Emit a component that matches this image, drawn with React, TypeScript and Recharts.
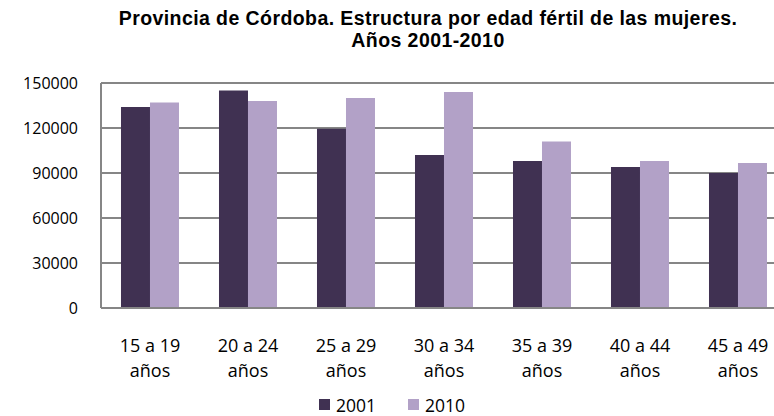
import React from "react";
import { BarChart, Bar, XAxis, YAxis, CartesianGrid, Legend } from "recharts";

const categories = ["15 a 19 años", "20 a 24 años", "25 a 29 años", "30 a 34 años", "35 a 39 años", "40 a 44 años", "45 a 49 años"];
const values2001 = [134000, 145000, 119500, 102000, 98000, 94000, 90000];
const values2010 = [137000, 138000, 140000, 144000, 111000, 98000, 96700];
const yTicks = [0, 30000, 60000, 90000, 120000, 150000];
const seriesNames = ["2001", "2010"];
const seriesColors = ["#403152", "#B2A1C7"];
const titleLines = ["Provincia de Córdoba. Estructura por edad fértil de las mujeres.", "Años 2001-2010"];

const data = categories.map((c, i) => ({ name: c, v2001: values2001[i], v2010: values2010[i] }));

const FONT = "'Open Sans', sans-serif";
const TITLE_FONT = "'Liberation Sans', Arial, sans-serif";
const GRID = "#868686";

const XTick = (props: any) => {
  const { x, y, payload } = props;
  const words = String(payload.value).split(" ");
  const line1 = words.slice(0, 3).join(" ");
  const line2 = words.slice(3).join(" ");
  return (
    <text x={x} y={y} textAnchor="middle" fill="#000" fontSize={18} fontFamily={FONT}>
      <tspan x={x} dy={44}>{line1}</tspan>
      <tspan x={x} dy={25}>{line2}</tspan>
    </text>
  );
};

const LegendContent = () => (
  <div style={{ height: 26, boxSizing: "border-box", paddingTop: 3, display: "flex", justifyContent: "center", fontFamily: FONT, fontSize: 17.5, lineHeight: "20px", color: "#000" }}>
    {seriesNames.map((n, i) => (
      <div key={n} style={{ display: "flex", alignItems: "center", marginLeft: i === 0 ? 0 : 32 }}>
        <span style={{ display: "inline-block", width: 11, height: 11, background: seriesColors[i], marginRight: 6 }} />
        <span>{n}</span>
      </div>
    ))}
  </div>
);

export default function App() {
  return (
    <div style={{ position: "fixed", left: 0, top: 0, width: 774, height: 416, overflow: "hidden", background: "#fff", fontFamily: FONT }}>
      <div style={{ position: "absolute", left: 0, width: 856, top: 6.5, textAlign: "center", fontFamily: TITLE_FONT, fontWeight: 700, fontSize: 19.5, letterSpacing: "0.42px", lineHeight: "22px", color: "#000", whiteSpace: "nowrap" }}>
        {titleLines[0]}
        <br />
        {titleLines[1]}
      </div>
      <BarChart
        width={800}
        height={416}
        data={data}
        margin={{ top: 83, right: 13, bottom: 0, left: 0 }}
        barCategoryGap="20.4%"
        barGap={0}
        style={{ fontFamily: FONT }}
      >
        <CartesianGrid horizontal vertical={false} stroke={GRID} strokeWidth={2} />
        <XAxis
          dataKey="name"
          height={82}
          interval={0}
          tickLine={false}
          tickSize={0}
          tickMargin={0}
          axisLine={{ stroke: GRID, strokeWidth: 2 }}
          tick={<XTick />}
        />
        <YAxis
          width={101}
          domain={[0, 150000]}
          ticks={yTicks}
          interval={0}
          tickLine={false}
          tickSize={0}
          tickMargin={23}
          axisLine={{ stroke: GRID, strokeWidth: 2 }}
          tick={{ fill: "#000", fontSize: 16, fontFamily: FONT }}
        />
        <Legend verticalAlign="bottom" content={<LegendContent />} wrapperStyle={{ left: 0, width: 784 }} />
        <Bar dataKey="v2001" name={seriesNames[0]} fill={seriesColors[0]} isAnimationActive={false} />
        <Bar dataKey="v2010" name={seriesNames[1]} fill={seriesColors[1]} isAnimationActive={false} />
      </BarChart>
    </div>
  );
}
